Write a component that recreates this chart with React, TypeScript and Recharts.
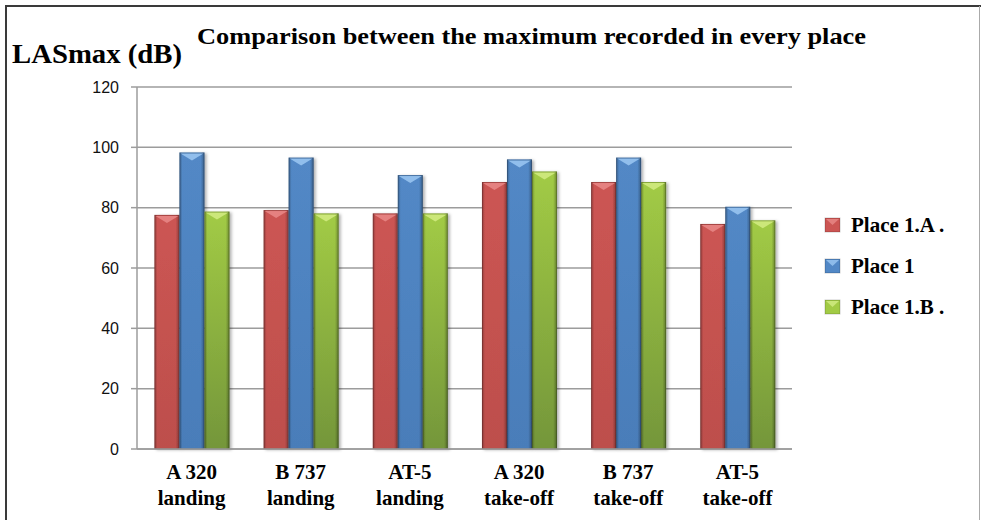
import { BarChart, Bar, XAxis, YAxis, CartesianGrid } from 'recharts';

const categories = ['A 320\nlanding', 'B 737\nlanding', 'AT-5\nlanding', 'A 320\ntake-off', 'B 737\ntake-off', 'AT-5\ntake-off'];
const place1A = [77.6, 79.2, 78.1, 88.5, 88.5, 74.6];
const place1 = [98.3, 96.6, 90.8, 96.0, 96.6, 80.3];
const place1B = [78.7, 78.1, 78.1, 92.0, 88.5, 75.8];
const yTicks = [0, 20, 40, 60, 80, 100, 120];
const edgeTicks = [0, 1, 2, 3, 4, 5, 6];

const series = [
    { key: 'a', name: 'Place 1.A .', values: place1A, top: '#cc5553', bottom: '#bd4f4c', light: '#e98a88' },
    { key: 'p', name: 'Place 1', values: place1, top: '#5288c6', bottom: '#4a7db9', light: '#9cc8f2' },
    { key: 'b', name: 'Place 1.B .', values: place1B, top: '#a2cb45', bottom: '#74963a', light: '#d3ec84' },
];

const data = categories.map((c, i) => ({
    cat: c,
    a: place1A[i],
    p: place1[i],
    b: place1B[i],
}));

const serif = "'Liberation Serif', 'Times New Roman', serif";
const GRID = '#9c9c9c';

function BevelBar(props: any) {
    const { x, y, width: w, height: h, sk } = props;
    if (!h || h <= 0) return null;
    const s = series.find(q => q.key === sk)!;
    return (
        <g filter="url(#barShadow)">
            <rect x={x} y={y} width={w} height={h} fill={`url(#v-${sk})`} />
            <rect x={x} y={y} width={w} height={h} fill="url(#sideShade)" />
            <polygon points={`${x + 1},${y + 1} ${x + w - 1},${y + 1} ${x + w / 2},${y + 8}`} fill={s.light} opacity={0.85} />
            <rect x={x + 0.5} y={y + 0.5} width={w - 1} height={h - 1} fill="none" stroke="rgba(0,0,0,0.18)" strokeWidth={1} />
        </g>
    );
}

function CatTick(props: any) {
    const { x, y, payload } = props;
    const [l1, l2] = String(payload.value).split('\n');
    return (
        <text x={x} y={y} textAnchor="middle" fontFamily={serif} fontWeight="bold" fontSize={21} fill="#000">
            <tspan x={x} dy={30}>{l1}</tspan>
            <tspan x={x} dy={26}>{l2}</tspan>
        </text>
    );
}

export default function App() {
    return (
        <div style={{ position: 'absolute', left: 0, top: 0, width: 981, height: 520, background: '#fff' }}>
            <BarChart
                width={981}
                height={520}
                data={data}
                margin={{ top: 87, right: 189, left: 80, bottom: 11 }}
                barCategoryGap="16%"
                barGap={0}
            >
                <defs>
                    {series.map(s => (
                        <linearGradient key={s.key} id={`v-${s.key}`} x1="0" y1="0" x2="0" y2="1">
                            <stop offset="0%" stopColor={s.top} />
                            <stop offset="100%" stopColor={s.bottom} />
                        </linearGradient>
                    ))}
                    <linearGradient id="sideShade" x1="0" y1="0" x2="1" y2="0">
                        <stop offset="0%" stopColor="#000" stopOpacity={0.28} />
                        <stop offset="12%" stopColor="#000" stopOpacity={0} />
                        <stop offset="85%" stopColor="#000" stopOpacity={0} />
                        <stop offset="100%" stopColor="#000" stopOpacity={0.32} />
                    </linearGradient>
                    <filter id="barShadow" x="-20%" y="-5%" width="150%" height="110%">
                        <feDropShadow dx={2} dy={1} stdDeviation={1.5} floodColor="#000" floodOpacity={0.3} />
                    </filter>
                </defs>
                <CartesianGrid vertical={false} stroke={GRID} strokeWidth={1.5} />
                <XAxis
                    xAxisId="edge"
                    type="number"
                    domain={[0, 6]}
                    ticks={edgeTicks}
                    allowDataOverflow
                    height={0}
                    axisLine={false}
                    tickSize={7}
                    tickLine={{ stroke: GRID, strokeWidth: 1.5 }}
                    tickFormatter={() => ''}
                />
                <XAxis
                    xAxisId="cat"
                    dataKey="cat"
                    height={60}
                    interval={0}
                    tickSize={0}
                    tickMargin={0}
                    tickLine={false}
                    axisLine={{ stroke: GRID, strokeWidth: 1.5 }}
                    tick={<CatTick />}
                />
                <YAxis
                    width={57}
                    domain={[0, 120]}
                    ticks={yTicks}
                    tickSize={6}
                    tickMargin={12}
                    axisLine={{ stroke: GRID, strokeWidth: 1.5 }}
                    tickLine={{ stroke: GRID, strokeWidth: 1.5 }}
                    tick={{ fontFamily: "'Liberation Sans', Arial, sans-serif", fontSize: 16, fill: '#111' }}
                />
                {series.map(s => (
                    <Bar
                        key={s.key}
                        xAxisId="cat"
                        dataKey={s.key}
                        name={s.name}
                        fill={s.top}
                        isAnimationActive={false}
                        shape={(p: any) => <BevelBar {...p} sk={s.key} />}
                    />
                ))}
            </BarChart>
            <svg width={981} height={520} style={{ position: 'absolute', left: 0, top: 0, pointerEvents: 'none' }}>
                <line x1={6} y1={5} x2={6} y2={520} stroke="#3a3a3a" strokeWidth={2} />
                <line x1={5} y1={6} x2={981} y2={6} stroke="#3a3a3a" strokeWidth={2} />
                <line x1={979.5} y1={6} x2={979.5} y2={520} stroke="#aaa" strokeWidth={1} />
                <text x={197} y={44} fontFamily={serif} fontWeight="bold" fontSize={24} fill="#000" textLength={669} lengthAdjust="spacingAndGlyphs">
                    Comparison between the maximum recorded in every place
                </text>
                <text x={12} y={63} fontFamily={serif} fontWeight="bold" fontSize={28} fill="#000" textLength={170} lengthAdjust="spacingAndGlyphs">
                    LASmax (dB)
                </text>
                {series.map((s, i) => (
                    <g key={s.key}>
                        <rect x={825} y={218 + i * 41} width={15} height={14} fill={s.top} stroke="rgba(0,0,0,0.2)" />
                        <polygon points={`${826},${219 + i * 41} ${839},${219 + i * 41} ${832.5},${225 + i * 41}`} fill={s.light} opacity={0.8} />
                        <text x={851} y={232 + i * 41} fontFamily={serif} fontWeight="bold" fontSize={21} fill="#000">
                            {s.name}
                        </text>
                    </g>
                ))}
            </svg>
        </div>
    );
}
